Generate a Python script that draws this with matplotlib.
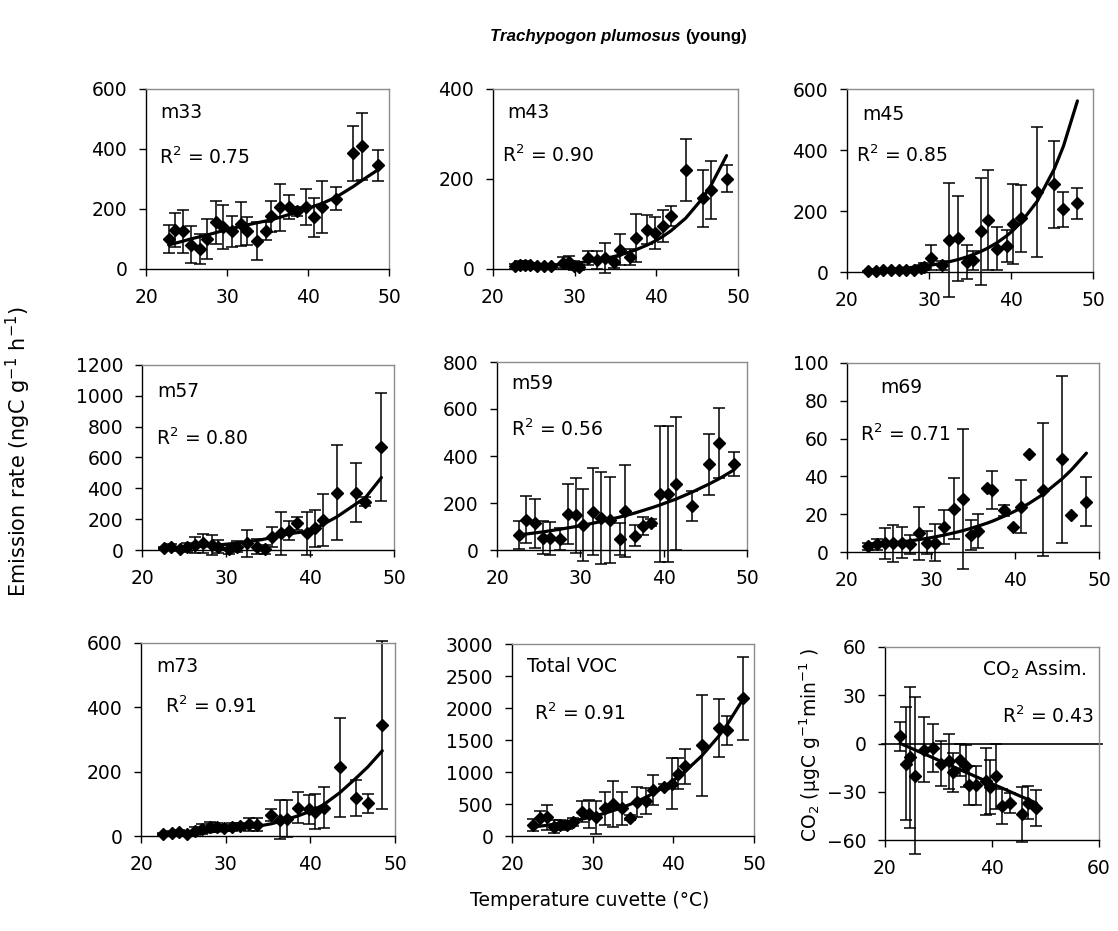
import numpy as np
import matplotlib
matplotlib.use("Agg")
import matplotlib.pyplot as plt

plt.rcParams["font.family"] = "DejaVu Sans"

nan = np.nan

# ---------------------------------------------------------------
# data: temperature (°C), mean, sd, fitted curve
# ---------------------------------------------------------------
m33_temp = [22.8, 23.6, 24.6, 25.5, 26.7, 27.5, 28.6, 29.5, 30.6, 31.7, 32.5, 33.7,
            34.8, 35.4, 36.5, 37.7, 38.7, 39.8, 40.8, 41.7, 43.5, 45.6, 46.7, 48.6]
m33_rate = [100, 130, 126, 81, 67, 100, 156, 139, 126, 150, 126, 93,
            126, 175, 206, 208, 193, 208, 173, 206, 234, 385, 409, 345]
m33_sd = [45, 55, 72, 62, 50, 67, 72, 73, 52, 73, 47, 62,
          30, 53, 78, 40, 15, 60, 65, 86, 38, 92, 111, 51]
m33_fit = [80, 86, 93, 100, 108, 113, 121, 128, 135, 142, 147, 154,
           160, 164, 172, 182, 190, 200, 210, 218, 240, 275, 296, 330]

m43_temp = [22.7, 23.3, 23.9, 24.5, 25.4, 26.2, 27.1, 28.6, 29.3, 29.9, 30.5, 31.6, 32.7,
            33.7, 34.8, 35.6, 36.8, 37.5, 38.9, 39.8, 40.8, 41.8, 43.6, 45.7, 46.7, 48.6]
m43_rate = [6, 9, 10, 8, 6, 6, 6, 14, 16, 7, 4, 24, 19,
            24, 15, 43, 26, 69, 87, 80, 95, 117, 220, 157, 176, 200]
m43_sd = [6, 8, 8, 6, 5, 5, 6, 12, 14, 10, 6, 15, 20,
          33, 12, 35, 18, 53, 32, 35, 35, 22, 69, 64, 65, 30]
m43_fit = [4.0, 4.4, 4.8, 5.3, 6.2, 7.0, 8.1, 10.3, 11.5, 12.7, 13.9, 16.6, 19.8,
           23.3, 27.7, 31.5, 38.2, 42.7, 53.4, 61.7, 72.4, 85, 113, 158, 186, 252]

m45_temp = [22.6, 23.5, 24.4, 25.4, 26.3, 27.2, 28.2, 29.0, 29.4, 30.3, 31.6, 32.4, 33.5,
            34.6, 35.4, 36.4, 37.2, 38.3, 39.5, 40.3, 41.2, 43.2, 45.3, 46.4, 48.1]
m45_rate = [2, 4, 5, 5, 5, 6, 8, 12, 18, 47, 22, 104, 110,
            33, 38, 134, 170, 77, 86, 157, 176, 261, 287, 205, 225]
m45_sd = [2, 3, 3, 3, 3, 4, 6, 10, 12, 41, 15, 187, 139,
          55, 30, 175, 165, 71, 52, 130, 110, 213, 143, 56, 50]
m45_fit = [5.7, 6.7, 7.9, 9.4, 11.1, 13.0, 15.6, 18.0, 19.4, 22.8, 28.8, 33.2, 40.5,
           49.4, 57.1, 68.3, 78.9, 96.1, 119, 138, 162, 232, 339, 413, 561]

m57_temp = [22.6, 23.5, 24.5, 25.3, 26.3, 27.3, 28.3, 29.1, 30.3, 31.3, 32.5, 33.7,
            34.7, 35.5, 36.5, 37.5, 38.4, 39.6, 40.6, 41.5, 43.2, 45.5, 46.6, 48.5]
m57_rate = [11, 22, 4, 17, 32, 43, 32, 22, 4, 22, 43, 22,
            4, 86, 108, 125, 173, 108, 140, 195, 372, 372, 313, 670]
m57_sd = [10, 15, 10, 30, 50, 60, 65, 40, 30, 35, 86, 50,
          30, 65, 140, 60, 43, 140, 120, 166, 309, 190, 30, 350]
m57_fit = [12, 14, 16, 18, 21, 25, 29, 33, 39, 45, 53, 62,
           72, 82, 95, 105, 112, 120, 138, 165, 215, 300, 340, 470]

m59_temp = [22.6, 23.5, 24.6, 25.5, 26.4, 27.5, 28.5, 29.5, 30.3, 31.5, 32.5, 33.5,
            34.7, 35.4, 36.5, 37.5, 38.5, 39.5, 40.5, 41.5, 43.4, 45.4, 46.6, 48.4]
m59_rate = [64, 128, 114, 53, 50, 47, 152, 148, 107, 163, 135, 128,
            47, 166, 61, 102, 116, 239, 239, 281, 189, 365, 455, 365]
m59_sd = [60, 100, 105, 70, 70, 45, 128, 160, 153, 184, 196, 182,
          70, 195, 46, 40, 15, 290, 290, 283, 64, 130, 149, 50]
m59_fit = [64, 68, 73, 77, 82, 88, 94, 100, 105, 114, 121, 130,
           140, 146, 157, 168, 179, 191, 204, 217, 246, 280, 302, 340]

m69_temp = [22.5, 23.6, 24.5, 25.5, 26.6, 27.5, 28.6, 29.5, 30.5, 31.6, 32.7, 33.8,
            34.8, 35.6, 36.7, 37.3, 38.7, 39.8, 40.7, 41.7, 43.3, 45.6, 46.7, 48.5]
m69_rate = [3, 4, 4.5, 4.5, 5, 4, 10, 5, 5, 13, 23, 28,
            9, 11, 34, 33, 22, 13, 24, 52, 33, 49, 19.5, 26.5]
m69_sd = [2, 3, 8, 10, 8, 5, 14, 6, 10, 9, 16, 37,
          8, 9, nan, 10, 3, nan, 14, nan, 35, 44, nan, 13]
m69_fit = [3.5, 3.9, 4.3, 4.8, 5.4, 5.9, 6.6, 7.2, 8.0, 9.0, 10.1, 11.3,
           12.6, 13.7, 15.3, 16.3, 18.9, 21.2, 23.2, 25.8, 30.4, 38.7, 43.4, 52.3]

m73_temp = [22.6, 23.7, 24.5, 25.4, 26.4, 27.2, 28.2, 29.0, 29.8, 30.7, 31.7, 32.7,
            33.7, 35.4, 36.4, 37.2, 38.6, 39.8, 40.6, 41.6, 43.5, 45.4, 46.8, 48.5]
m73_rate = [5, 8, 12, 5, 16, 22, 27, 27, 24, 29, 30, 37,
            35, 65, 51, 54, 88, 83, 76, 88, 213, 118, 102, 345]
m73_sd = [4, 6, 8, 6, 12, 15, 15, 12, 10, 12, 10, 20,
          20, 18, 61, 58, 48, 46, 55, 64, 155, 57, 30, 260]
m73_fit = [5, 6, 7, 8, 10, 11, 13, 15, 17, 19, 22, 26,
           30, 38, 45, 52, 63, 75, 84, 98, 135, 180, 215, 265]

voc_temp = [22.6, 23.5, 24.3, 25.2, 26.0, 26.8, 27.6, 28.7, 29.5, 30.4, 31.5, 32.5, 33.6,
            34.6, 35.5, 36.6, 37.5, 38.8, 39.8, 40.6, 41.4, 43.5, 45.6, 46.7, 48.6]
voc_rate = [171, 275, 290, 145, 170, 170, 220, 378, 340, 290, 430, 500, 430,
            285, 533, 545, 715, 767, 820, 975, 1090, 1415, 1685, 1650, 2150]
voc_sd = [90, 120, 190, 100, 80, 60, 60, 165, 220, 260, 260, 360, 260,
          40, 233, 200, 233, 40, 400, 240, 275, 790, 450, 230, 650]
voc_fit = [140, 154, 167, 184, 200, 217, 236, 265, 288, 317, 355, 395, 443,
           492, 540, 606, 666, 763, 848, 922, 1002, 1249, 1556, 1746, 2130]

co2_temp = [22.8, 23.9, 24.6, 25.6, 27.2, 29.0, 30.4, 32.0, 32.8, 34.1, 35.2, 35.7,
            37.0, 38.9, 39.7, 40.8, 41.8, 43.3, 45.6, 46.8, 48.3]
co2_assim = [4.5, -12.5, -8.7, -20, -3.75, -2.7, -12.5, -11, -18, -10, -14, -26,
             -26, -23.5, -27, -20.5, -39, -37, -44, -36.7, -40]
co2_sd = [9, 35, 44, 49, 20, 15, 14, 17, 12, 10, 13, 12,
          12, 21, 17, 20, 11, 6, 17, 10, 11]
co2_fit = [0.1, -1.5, -2.5, -4.0, -6.3, -8.9, -11.0, -13.3, -14.5, -16.4, -18.0, -18.7,
           -20.6, -23.4, -24.6, -26.2, -27.6, -29.8, -33.2, -34.9, -37.1]

r2_values = ["0.75", "0.90", "0.85", "0.80", "0.56", "0.71", "0.91", "0.91", "0.43"]

W, H = 1118, 931


def px_rect(x0, x1, ytop, ybot):
    return [x0 / W, 1 - ybot / H, (x1 - x0) / W, (ybot - ytop) / H]


def draw_panel(fig, rect, temp, rate, sd, fit, name, r2, ylim, ystep,
               name_xy, r2_xy, xlim=(20, 50), xstep=10, ha="left"):
    ax = fig.add_axes(rect)
    eb = ax.errorbar(temp, rate, yerr=sd, fmt="none", ecolor="black",
                     elinewidth=1.1, capsize=4.5, capthick=1.1, zorder=2)
    for art in list(eb.lines[1]) + list(eb.lines[2]):
        art.set_clip_on(False)
    ax.plot(temp, fit, color="black", lw=2.3, zorder=3, solid_capstyle="round")
    ax.plot(temp, rate, "D", color="black", ms=6.2, zorder=4, clip_on=False)

    ax.set_xlim(*xlim)
    ax.set_ylim(*ylim)
    ax.set_xticks(np.arange(xlim[0], xlim[1] + 1, xstep))
    ax.set_yticks(np.arange(ylim[0], ylim[1] + 1, ystep))
    ax.tick_params(direction="out", length=5, width=1, pad=8.5, labelsize=13.5)
    for s in ("top", "right"):
        ax.spines[s].set_color("#8c8c8c")
        ax.spines[s].set_linewidth(1)
    for s in ("left", "bottom"):
        ax.spines[s].set_color("black")
        ax.spines[s].set_linewidth(1)

    ax.text(name_xy[0], name_xy[1], name, transform=ax.transAxes,
            ha=ha, va="center", fontsize=13.5)
    ax.text(r2_xy[0], r2_xy[1], "R$^2$ = " + r2, transform=ax.transAxes,
            ha=ha, va="center", fontsize=13.5)
    return ax


def main():
    fig = plt.figure(figsize=(W / 100, H / 100), dpi=100)

    draw_panel(fig, px_rect(146, 389, 89, 269), m33_temp, m33_rate, m33_sd, m33_fit,
               "m33", r2_values[0], (0, 600), 200, (0.058, 0.867), (0.055, 0.62))
    draw_panel(fig, px_rect(493, 738, 89, 269), m43_temp, m43_rate, m43_sd, m43_fit,
               "m43", r2_values[1], (0, 400), 200, (0.057, 0.87), (0.037, 0.63))
    draw_panel(fig, px_rect(847, 1093, 89, 272), m45_temp, m45_rate, m45_sd, m45_fit,
               "m45", r2_values[2], (0, 600), 200, (0.061, 0.86), (0.037, 0.64))

    draw_panel(fig, px_rect(142, 394, 365, 550), m57_temp, m57_rate, m57_sd, m57_fit,
               "m57", r2_values[3], (0, 1200), 200, (0.06, 0.856), (0.055, 0.606))
    draw_panel(fig, px_rect(497, 747, 362, 550), m59_temp, m59_rate, m59_sd, m59_fit,
               "m59", r2_values[4], (0, 800), 200, (0.056, 0.883), (0.056, 0.64))
    draw_panel(fig, px_rect(847, 1099, 363, 552), m69_temp, m69_rate, m69_sd, m69_fit,
               "m69", r2_values[5], (0, 100), 20, (0.13, 0.873), (0.052, 0.624))

    draw_panel(fig, px_rect(141, 395, 643, 836), m73_temp, m73_rate, m73_sd, m73_fit,
               "m73", r2_values[6], (0, 600), 200, (0.06, 0.88), (0.094, 0.67))
    draw_panel(fig, px_rect(512, 754, 644, 836), voc_temp, voc_rate, voc_sd, voc_fit,
               "Total VOC", r2_values[7], (0, 3000), 500, (0.062, 0.885), (0.091, 0.64))
    ax9 = draw_panel(fig, px_rect(885, 1099, 647, 840), co2_temp, co2_assim, co2_sd, co2_fit,
                     "CO$_2$ Assim.", r2_values[8], (-60, 60), 30, (0.94, 0.88), (0.977, 0.64),
                     xlim=(20, 60), xstep=20, ha="right")
    ax9.axhline(0, xmin=-0.015, xmax=1.015, color="black", lw=1.2, clip_on=False, zorder=1)

    # titles and shared labels
    title_font = ["Liberation Sans", "DejaVu Sans"]
    fig.text(681 / W, 1 - 36 / H, "Trachypogon plumosus", ha="right", va="center",
             fontsize=12.2, fontweight="bold", fontstyle="italic", family=title_font)
    fig.text(685 / W, 1 - 36 / H, "(young)", ha="left", va="center",
             fontsize=12.2, fontweight="bold", family=title_font)
    fig.text(18 / W, 1 - 452 / H, "Emission rate (ngC g$^{-1}$ h$^{-1}$)",
             rotation=90, ha="center", va="center", fontsize=15)
    fig.text(590 / W, 1 - 901 / H, "Temperature cuvette (°C)",
             ha="center", va="center", fontsize=13.5)
    fig.text(810 / W, 1 - 745 / H, "CO$_2$ (µgC g$^{-1}$min$^{-1}$ )",
             rotation=90, ha="center", va="center", fontsize=13.5)

    fig.savefig("out.png", dpi=100)
    plt.close(fig)


if __name__ == "__main__":
    main()
